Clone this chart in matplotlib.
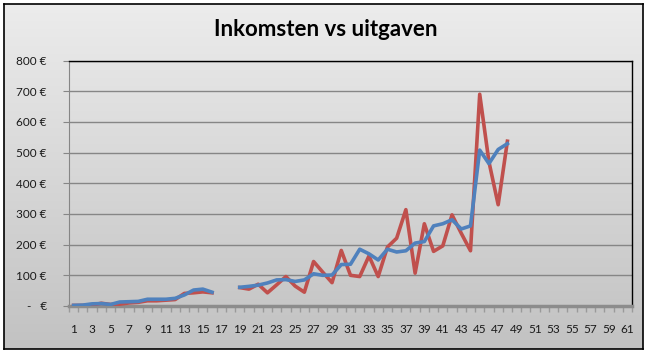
import numpy as np
import matplotlib
matplotlib.use("Agg")
import matplotlib.pyplot as plt
from matplotlib.ticker import FuncFormatter, MultipleLocator

plt.rcParams['font.family'] = ['Lato', 'DejaVu Sans']

nan = np.nan
categories = list(range(1, 62))

# red line
uitgaven = [2, 2, 3, 9, 5, 6, 10, 12, 17, 17, 19, 21, 41, 43, 46, 43, nan, nan,
            60, 55, 71, 43, 69, 96, 65, 45, 145, 110, 76, 181, 100, 96, 163, 96,
            192, 221, 314, 107, 268, 178, 196, 297, 237, 180, 690, 470, 330, 537]
# blue line
inkomsten = [2, 3, 7, 8, 5, 13, 14, 15, 22, 22, 22, 25, 36, 52, 55, 45, nan, nan,
             61, 64, 68, 75, 85, 86, 80, 85, 105, 100, 101, 135, 136, 185, 170, 150,
             185, 176, 180, 205, 210, 261, 268, 281, 251, 261, 508, 464, 510, 529]

uitgaven = uitgaven + [nan] * (len(categories) - len(uitgaven))
inkomsten = inkomsten + [nan] * (len(categories) - len(inkomsten))

W, H = 652, 357
fig = plt.figure(figsize=(W / 100, H / 100), dpi=100)
fig.patch.set_facecolor('white')

# chart area with gradient background
x0, y0, x1, y1 = 4, 4, 643, 349
bg = fig.add_axes([x0 / W, 1 - y1 / H, (x1 - x0) / W, (y1 - y0) / H])
grad = np.linspace(0, 1, 256).reshape(-1, 1)
top = np.array([236, 236, 236]) / 255
bot = np.array([194, 194, 194]) / 255
img = top[None, None, :] * (1 - grad[:, :, None]) + bot[None, None, :] * grad[:, :, None]
bg.imshow(img, aspect='auto', extent=[0, 1, 0, 1])
bg.set_xlim(0, 1)
bg.set_ylim(0, 1)
bg.set_xticks([])
bg.set_yticks([])
for s in bg.spines.values():
    s.set_color('black')
    s.set_linewidth(1.2)

ax = fig.add_axes([69 / W, 1 - 306 / H, (632 - 69) / W, (306 - 60.5) / H])
ax.set_facecolor('none')

ax.plot(categories, uitgaven, color='#C0504D', lw=2.6, solid_joinstyle='round', zorder=3)
ax.plot(categories, inkomsten, color='#4F81BD', lw=2.6, solid_joinstyle='round', zorder=4)

ax.set_xlim(0.5, 61.5)
ax.set_ylim(0, 800)
ax.yaxis.set_major_locator(MultipleLocator(100))
ax.yaxis.set_major_formatter(FuncFormatter(lambda v, p: '-   €' if v == 0 else f'{int(v)} €'))
ax.grid(axis='y', color='#868686', lw=1)
ax.set_axisbelow(True)

ax.set_xticks(categories[::2])
ax.set_xticklabels([str(c) for c in categories[::2]])
ax.set_xticks([c + 0.5 for c in range(0, 62)], minor=True)
ax.tick_params(axis='x', which='major', length=0, pad=13, labelsize=8.5, colors='#1a1a1a')
ax.tick_params(axis='x', which='minor', length=4, color='#9a9a9a', width=1)
ax.tick_params(axis='y', length=4, labelsize=8.5, pad=12)
ax.tick_params(axis='y', colors='#868686', labelcolor='#1a1a1a')

ax.spines['left'].set_color('#868686')
ax.spines['bottom'].set_color('#8c8c8c')
ax.spines['bottom'].set_linewidth(2.5)
ax.spines['top'].set_color('black')
ax.spines['right'].set_color('black')
ax.spines['top'].set_linewidth(1)
ax.spines['right'].set_linewidth(1)

fig.text(326 / W, 1 - 29 / H, 'Inkomsten vs uitgaven', ha='center', va='center',
         fontsize=16, fontweight='bold', color='black')

plt.savefig('out.png', dpi=100)
plt.close()
